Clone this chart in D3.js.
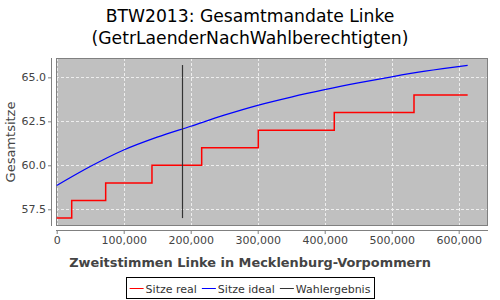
<!DOCTYPE html>
<html>
<head>
<meta charset="utf-8">
<script src="https://cdn.jsdelivr.net/npm/d3@7"></script>
<style>
  body { margin: 0; background: #fff; }
  svg { display: block; font-family: "DejaVu Sans", sans-serif; }
</style>
</head>
<body>
<div id="chart"></div>
<script>
// step series: [votes, seats]
const realVotes = [0, 22400, 73100, 142200, 216400, 300900, 414300, 533300, 613400];
const realSeats = [57, 58, 59, 60, 61, 62, 63, 64, 64];
// ideal seat curve
const idealVotes = [0, 50000, 100000, 150000, 200000, 250000, 300000, 350000, 400000, 450000, 500000, 550000, 613400];
const idealSeats = [58.85, 59.93, 60.87, 61.6, 62.22, 62.85, 63.41, 63.88, 64.3, 64.68, 65.03, 65.35, 65.68];
// election result
const resultVotes = 187500;
const resultRange = [57, 65.7];

const xTicks = [0, 100000, 200000, 300000, 400000, 500000, 600000];
const yTicks = [57.5, 60.0, 62.5, 65.0];
const legendItems = [
  { label: 'Sitze real', color: '#ff0000' },
  { label: 'Sitze ideal', color: '#0000ff' },
  { label: 'Wahlergebnis', color: '#333333' }
];

const W = 500, H = 300;
const plot = { left: 56, top: 58, right: 488, bottom: 226 };

const svg = d3.select('#chart').append('svg').attr('width', W).attr('height', H);

const x = d3.scaleLinear().domain([0, 644800]).range([plot.left + 0.7, plot.right + 0.7]);
const y = d3.scaleLinear().domain([56.55, 66.1]).range([plot.bottom, plot.top]);

// title
svg.append('text').attr('x', 250).attr('y', 22).attr('text-anchor', 'middle')
  .style('font-size', '17.2px').attr('fill', '#000').text('BTW2013: Gesamtmandate Linke');
svg.append('text').attr('x', 250).attr('y', 44).attr('text-anchor', 'middle')
  .style('font-size', '17.2px').attr('fill', '#000').text('(GetrLaenderNachWahlberechtigten)');

// plot background
svg.append('rect').attr('x', plot.left).attr('y', plot.top)
  .attr('width', plot.right - plot.left).attr('height', plot.bottom - plot.top)
  .attr('fill', '#c0c0c0');

// grid
const grid = svg.append('g').attr('stroke', '#eeeeee').attr('stroke-width', 1).attr('stroke-dasharray', '3,2');
xTicks.forEach((t) => {
  const px = Math.round(x(t)) + 0.5;
  grid.append('line').attr('x1', px).attr('x2', px).attr('y1', plot.top).attr('y2', plot.bottom);
});
yTicks.forEach((t) => {
  const py = Math.round(y(t)) + 0.5;
  grid.append('line').attr('x1', plot.left).attr('x2', plot.right).attr('y1', py).attr('y2', py);
});

// plot border
svg.append('rect').attr('x', plot.left + 0.5).attr('y', plot.top + 0.5)
  .attr('width', plot.right - plot.left - 1).attr('height', plot.bottom - plot.top - 1)
  .attr('fill', 'none').attr('stroke', '#808080').attr('stroke-width', 1);

// axes (offset from plot like JFreeChart)
const tickFont = (sel) => sel.attr('fill', '#444').style('font-size', '11px')
  .style('font-family', '"DejaVu Sans", sans-serif');

const xAxis = svg.append('g').attr('transform', `translate(0, ${plot.bottom + 4})`)
  .call(d3.axisBottom(x).tickValues(xTicks).tickSize(4).tickPadding(2).tickFormat(d3.format(',')));
xAxis.select('.domain').attr('stroke', '#808080').attr('d', `M${plot.left},0.5H${plot.right}`);
xAxis.selectAll('.tick line').attr('stroke', '#808080');
xAxis.selectAll('.tick text').call(tickFont);

const yAxis = svg.append('g').attr('transform', `translate(${plot.left - 4}, 0)`)
  .call(d3.axisLeft(y).tickValues(yTicks).tickSize(4).tickPadding(2).tickFormat(d3.format('.1f')));
yAxis.select('.domain').attr('stroke', '#808080').attr('d', `M-0.5,${plot.top}V${plot.bottom}`);
yAxis.selectAll('.tick line').attr('stroke', '#808080');
yAxis.selectAll('.tick text').call(tickFont);

// axis labels
svg.append('text').attr('x', 250).attr('y', 267).attr('text-anchor', 'middle')
  .style('font-size', '12.9px').style('font-weight', 'bold').attr('fill', '#444')
  .text('Zweitstimmen Linke in Mecklenburg-Vorpommern');
svg.append('text').attr('transform', `translate(15, ${(plot.top + plot.bottom) / 2}) rotate(-90)`)
  .attr('text-anchor', 'middle').style('font-size', '13px').attr('fill', '#444').text('Gesamtsitze');

// series
const real = realVotes.map((v, i) => [v, realSeats[i]]);
const ideal = idealVotes.map((v, i) => [v, idealSeats[i]]);

svg.append('path').datum(real)
  .attr('d', d3.line().curve(d3.curveStepAfter).x((d) => x(d[0])).y((d) => y(d[1])))
  .attr('fill', 'none').attr('stroke', '#ff0000').attr('stroke-width', 1.5);

svg.append('path').datum(ideal)
  .attr('d', d3.line().curve(d3.curveMonotoneX).x((d) => x(d[0])).y((d) => y(d[1])))
  .attr('fill', 'none').attr('stroke', '#0000ff').attr('stroke-width', 1.3);

svg.append('line')
  .attr('x1', Math.round(x(resultVotes)) + 0.5).attr('x2', Math.round(x(resultVotes)) + 0.5)
  .attr('y1', y(resultRange[0])).attr('y2', y(resultRange[1]))
  .attr('stroke', '#333333').attr('stroke-width', 1.2);

// legend
const legend = svg.append('g');
const box = legend.append('rect').attr('y', 277.5).attr('height', 21)
  .attr('fill', '#fff').attr('stroke', '#000').attr('stroke-width', 1);
let lx = 0;
const items = legend.append('g');
legendItems.forEach((item) => {
  items.append('line').attr('x1', lx).attr('x2', lx + 14).attr('y1', 288.5).attr('y2', 288.5)
    .attr('stroke', item.color).attr('stroke-width', 1);
  const t = items.append('text').attr('x', lx + 16).attr('y', 292.5)
    .style('font-size', '11px').attr('fill', '#333').text(item.label);
  lx += 16 + t.node().getComputedTextLength() + 5;
});
const totalW = lx - 5;
const startX = 250 - totalW / 2;
items.attr('transform', `translate(${startX}, 0)`);
box.attr('x', Math.round(startX - 4) + 0.5).attr('width', Math.round(totalW + 7));
</script>
</body>
</html>
